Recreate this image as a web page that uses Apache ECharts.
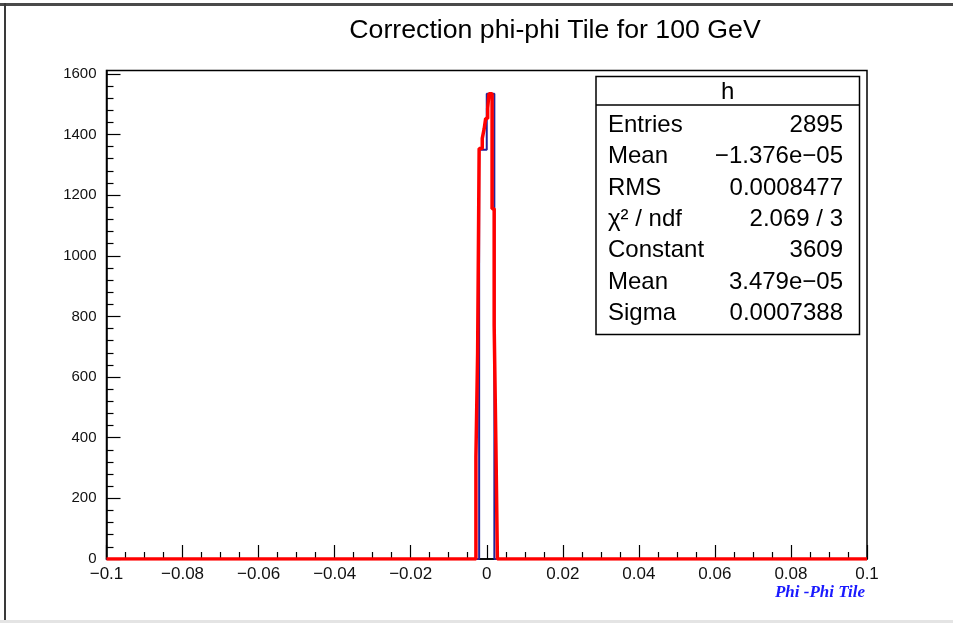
<!DOCTYPE html>
<html><head><meta charset="utf-8">
<script src="https://cdn.jsdelivr.net/npm/echarts@6/dist/echarts.min.js"></script>
<style>html,body{margin:0;padding:0;background:#fff}#c{width:953px;height:623px}</style>
</head><body><div id="c"></div>
<script>
// ---- data ----
const titleText = 'Correction phi-phi Tile for 100 GeV';
const xAxisTitle = 'Phi -Phi Tile';
const binMin = -0.1;
const binWidth = 0.002;
// 100 bins from -0.1 to 0.1 (only two visibly non-empty)
const histCounts = [
  0,0,0,0,0,0,0,0,0,0, 0,0,0,0,0,0,0,0,0,0,
  0,0,0,0,0,0,0,0,0,0, 0,0,0,0,0,0,0,0,0,0,
  0,0,0,0,0,0,0,0,0,1350, 1534,0,0,0,0,0,0,0,0,0,
  0,0,0,0,0,0,0,0,0,0, 0,0,0,0,0,0,0,0,0,0,
  0,0,0,0,0,0,0,0,0,0, 0,0,0,0,0,0,0,0,0,0
];
// fit curve as drawn (step edges / values)
const fitEdges = [-0.1, -0.00285, -0.00240, -0.00200, -0.00118, -0.00066, -0.00029, 0.00024, 0.00058, 0.00140, 0.00195, 0.00240, 0.00280, 0.1];
const fitValues = [0, 336, 679, 1354, 1387, 1420, 1453, 1487, 1534, 1155, 771, 381, 0];
const yTicks = [0, 200, 400, 600, 800, 1000, 1200, 1400, 1600];
const yMax = 1611;
const statsTitle = 'h';
const statsLabels = ['Entries', 'Mean', 'RMS', 'χ² / ndf', 'Constant', 'Mean', 'Sigma'];
const statsValues = ['2895', '\u22121.376e\u221205', '0.0008477', '2.069 / 3', '3609', '3.479e\u221205', '0.0007388'];

// ---- build ----
const histPts = [];
histCounts.forEach((c, i) => {
  histPts.push([binMin + i * binWidth, c]);
  histPts.push([binMin + (i + 1) * binWidth, c]);
});
const fitPts = [];
fitValues.forEach((v, i) => {
  fitPts.push([fitEdges[i], v]);
  fitPts.push([fitEdges[i + 1], v]);
});
const yMinor = [];
for (let i = 0; i + 1 < yTicks.length; i++) {
  const step = (yTicks[i + 1] - yTicks[i]) / 5;
  for (let k = 1; k < 5; k++) yMinor.push(yTicks[i] + k * step);
}

const FONT = '"Liberation Sans", Arial, Helvetica, sans-serif';
const fmtX = v => String(Number(v.toFixed(3))).replace('-', '\u2212');
const fmtY = v => String(Math.round(v));

const chart = echarts.init(document.getElementById('c'), null, {renderer: 'canvas'});

const graphics = [];
// page frame
graphics.push({type: 'rect', shape: {x: 0, y: 3, width: 953, height: 3}, style: {fill: '#4a4a4a'}, silent: true});
graphics.push({type: 'rect', shape: {x: 4, y: 3, width: 2, height: 618}, style: {fill: '#3a3a3a'}, silent: true});
graphics.push({type: 'rect', shape: {x: 0, y: 620, width: 953, height: 3}, style: {fill: '#e4e4e4'}, silent: true});
// title
graphics.push({type: 'text', x: 555, y: 31, style: {text: titleText, font: '26.7px ' + FONT, fill: '#000', textAlign: 'center', textVerticalAlign: 'middle'}, z: 10});
// x axis title
graphics.push({type: 'text', x: 865, y: 593, style: {text: xAxisTitle, font: 'italic bold 17px "Liberation Serif", "Times New Roman", serif', fill: '#1a1aff', textAlign: 'right', textVerticalAlign: 'middle'}, z: 10});
// stats box
const bx = 596, by = 76.5, bw = 263.5, bh = 258, hdr = 105;
graphics.push({type: 'rect', shape: {x: bx, y: by, width: bw, height: bh}, style: {fill: '#fff', stroke: '#000', lineWidth: 1.5}, z: 20});
graphics.push({type: 'line', shape: {x1: bx, y1: hdr, x2: bx + bw, y2: hdr}, style: {stroke: '#000', lineWidth: 1.5}, z: 21});
graphics.push({type: 'text', x: bx + bw / 2, y: 92, style: {text: statsTitle, font: '24px ' + FONT, fill: '#000', textAlign: 'center', textVerticalAlign: 'middle'}, z: 21});
statsLabels.forEach((l, i) => {
  const y = 125.5 + i * 31.3;
  graphics.push({type: 'text', x: 608, y: y, style: {text: l, font: '24px ' + FONT, fill: '#000', textAlign: 'left', textVerticalAlign: 'middle'}, z: 21});
  graphics.push({type: 'text', x: 843, y: y, style: {text: statsValues[i], font: '24px ' + FONT, fill: '#000', textAlign: 'right', textVerticalAlign: 'middle'}, z: 21});
});

const option = {
  animation: false,
  backgroundColor: '#fff',
  grid: {left: 106.5, right: 86, top: 70.5, bottom: 64, show: true, borderColor: '#000', borderWidth: 1.5, backgroundColor: 'transparent'},
  xAxis: {
    type: 'value', min: -0.1, max: 0.1, interval: 0.02,
    axisLine: {show: true, onZero: false, lineStyle: {color: '#000', width: 1.5}},
    axisTick: {show: true, inside: true, length: 14, lineStyle: {color: '#000', width: 1.2}},
    minorTick: {show: true, splitNumber: 4, length: 7, lineStyle: {color: '#000', width: 1.2}},
    splitLine: {show: false},
    axisLabel: {formatter: fmtX, fontSize: 17, fontFamily: FONT, color: '#111', margin: 7}
  },
  yAxis: [{
    type: 'value', min: 0, max: yMax, position: 'left',
    axisLine: {show: true, onZero: false, lineStyle: {color: '#000', width: 1.5}},
    axisTick: {show: true, inside: true, length: 14, customValues: yTicks, lineStyle: {color: '#000', width: 1.2}},
    axisLabel: {customValues: yTicks, formatter: fmtY, fontSize: 15, fontFamily: FONT, color: '#111', margin: 10},
    splitLine: {show: false}
  }, {
    type: 'value', min: 0, max: yMax, position: 'left',
    axisLine: {show: false, onZero: false},
    axisTick: {show: true, inside: true, length: 7, customValues: yMinor, lineStyle: {color: '#000', width: 1.2}},
    axisLabel: {show: false},
    splitLine: {show: false}
  }],
  series: [{
    type: 'line', name: 'h', data: histPts, yAxisIndex: 0, showSymbol: false, symbol: 'none',
    lineStyle: {color: '#22229a', width: 2}, z: 3, clip: true
  }, {
    type: 'line', name: 'fit', data: fitPts, yAxisIndex: 0, showSymbol: false, symbol: 'none',
    lineStyle: {color: '#ff0000', width: 3.5}, z: 4, clip: true
  }],
  graphic: graphics
};
chart.setOption(option);
</script>
</body></html>
